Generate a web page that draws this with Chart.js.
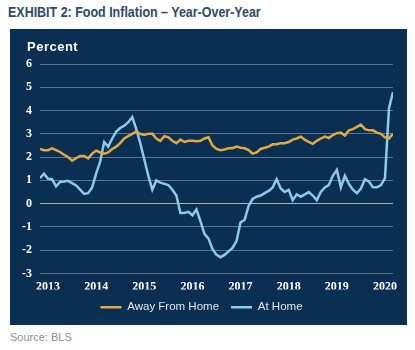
<!DOCTYPE html>
<html>
<head>
<meta charset="utf-8">
<script src="https://cdn.jsdelivr.net/npm/chart.js@4/dist/chart.umd.min.js"></script>
<style>
  html, body { margin: 0; padding: 0; background: #ffffff; }
  body { width: 415px; height: 350px; position: relative; overflow: hidden; }
  #title { position: absolute; left: 8px; top: 4px; font-family: "Liberation Sans Narrow", "Liberation Sans", sans-serif; font-weight: bold; font-size: 14.5px; color: #2f4a68; white-space: nowrap; transform: scaleX(0.86); transform-origin: left top; }
  #panel { position: absolute; left: 10px; top: 29px; width: 397px; height: 296px; background: #0b2f52; }
  #percent { position: absolute; left: 17px; top: 10px; font-family: "Liberation Sans Narrow", "Liberation Sans", sans-serif; font-weight: bold; font-size: 13px; color: #ffffff; letter-spacing: 0.5px; }
  #source { position: absolute; left: 10px; top: 331px; font-family: "Liberation Sans", sans-serif; font-size: 11px; color: #8a8f96; }
  canvas { position: absolute; left: 0; top: 0; }
</style>
</head>
<body>
<div id="title">EXHIBIT 2: Food Inflation – Year-Over-Year</div>
<div id="panel">
  <canvas id="c" width="397" height="296"></canvas>
  <div id="percent">Percent</div>
</div>
<div id="source">Source: BLS</div>
<script>
// Monthly, Jan 2013 .. May 2020
const startYear = 2013;
const yearLabels = ["2013", "2014", "2015", "2016", "2017", "2018", "2019", "2020"];
const seriesNames = ["Away From Home", "At Home"];
const awayFromHome = [
  2.35, 2.3, 2.3, 2.38, 2.3, 2.22, 2.1, 2.0, 1.85, 1.95, 2.05, 2.05,
  1.95, 2.15, 2.28, 2.2, 2.15, 2.2, 2.35, 2.45, 2.6, 2.8, 2.9, 3.0,
  3.1, 3.0, 2.95, 3.0, 3.0, 2.8, 2.7, 2.9, 2.85, 2.7, 2.6, 2.75,
  2.65, 2.7, 2.7, 2.68, 2.7, 2.8, 2.85, 2.5, 2.35, 2.3, 2.33, 2.38,
  2.38, 2.45, 2.4, 2.38, 2.3, 2.15, 2.2, 2.35, 2.4, 2.45, 2.55, 2.55,
  2.6, 2.6, 2.65, 2.75, 2.8, 2.88, 2.75, 2.65, 2.57, 2.7, 2.8, 2.88,
  2.82, 2.95, 3.03, 3.05, 2.93, 3.15, 3.2, 3.3, 3.4, 3.2, 3.15, 3.15,
  3.05, 3.0, 2.85, 2.8, 3.0
];
const atHome = [
  1.1, 1.29, 1.07, 1.05, 0.74, 0.93, 0.95, 0.98, 0.88, 0.78, 0.6, 0.42,
  0.45, 0.7, 1.3, 1.8, 2.65, 2.45, 2.8, 3.1, 3.25, 3.35, 3.5, 3.72,
  3.2, 2.6, 1.9, 1.2, 0.6, 1.0, 0.9, 0.85, 0.8, 0.6, 0.35, -0.4,
  -0.4, -0.35, -0.5, -0.25, -0.75, -1.3, -1.5, -1.95, -2.2, -2.3, -2.2, -2.05,
  -1.9, -1.6, -0.8, -0.7, -0.1, 0.2, 0.3, 0.35, 0.45, 0.55, 0.7, 1.05,
  0.65, 0.5, 0.6, 0.15, 0.4, 0.3, 0.4, 0.5, 0.35, 0.15, 0.5, 0.7,
  0.8, 1.2, 1.45, 0.7, 1.2, 0.85, 0.6, 0.45, 0.65, 1.05, 0.95, 0.7,
  0.7, 0.8, 1.1, 4.1, 4.8
];
const yTicks = [-3, -2, -1, 0, 1, 2, 3, 4, 5, 6];

const orange = "#e3a93e";
const blue = "#8ec8ea";
const toPoints = arr => arr.map((v, i) => ({ x: i, y: v }));
// year label positions (month index) as in the reference
const yearTickPos = yearLabels.map((_, k) => 2 + 12 * k);

new Chart(document.getElementById("c"), {
  type: "line",
  data: {
    datasets: [
      { label: seriesNames[0], data: toPoints(awayFromHome), borderColor: orange, backgroundColor: orange, borderWidth: 2.5, pointRadius: 0, tension: 0 },
      { label: seriesNames[1], data: toPoints(atHome), borderColor: blue, backgroundColor: blue, borderWidth: 2.5, pointRadius: 0, tension: 0 }
    ]
  },
  options: {
    responsive: false,
    animation: false,
    layout: { padding: { top: 35, right: 14, left: 0, bottom: 2 } },
    plugins: {
      tooltip: { enabled: false },
      legend: {
        position: "bottom",
        labels: {
          color: "#dfe6ee",
          font: { family: "Liberation Sans", size: 11.5 },
          boxWidth: 21,
          boxHeight: 2.5,
          padding: 12,
          generateLabels(chart) {
            const items = Chart.defaults.plugins.legend.labels.generateLabels(chart);
            items.forEach(it => { it.lineWidth = 0; it.strokeStyle = "rgba(0,0,0,0)"; });
            return items;
          }
        }
      }
    },
    scales: {
      x: {
        type: "linear",
        min: 0,
        max: awayFromHome.length - 1,
        grid: { display: false, drawTicks: false },
        border: { display: false },
        afterBuildTicks(scale) { scale.ticks = yearTickPos.map(v => ({ value: v })); },
        afterFit(scale) { scale.height = 16; },
        ticks: {
          color: "#ffffff",
          padding: 6,
          maxRotation: 0,
          autoSkip: false,
          font: { family: "Liberation Sans Narrow", weight: "bold", size: 12 },
          callback(v) { return String(startYear + Math.round((v - 2) / 12)); }
        }
      },
      y: {
        min: -3,
        max: 6,
        afterBuildTicks(scale) { scale.ticks = yTicks.map(v => ({ value: v })); },
        afterFit(scale) { scale.width = 30; },
        grid: {
          drawTicks: false,
          lineWidth: 1,
          color: ctx => ctx.tick && ctx.tick.value === 0 ? "rgba(200,205,212,0.85)" : "rgba(170,185,205,0.5)"
        },
        border: { display: false },
        ticks: {
          color: "#ffffff",
          padding: 8,
          font: { family: "Liberation Sans Narrow", weight: "bold", size: 12 },
          callback(v) { return String(v); }
        }
      }
    }
  }
});
</script>
</body>
</html>
